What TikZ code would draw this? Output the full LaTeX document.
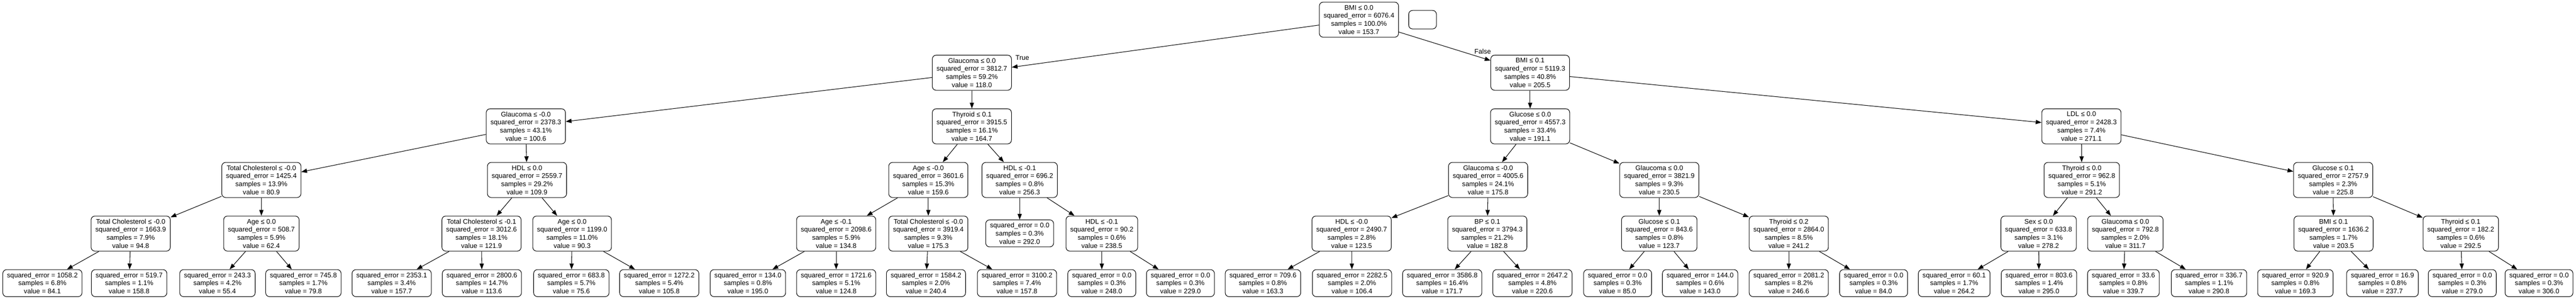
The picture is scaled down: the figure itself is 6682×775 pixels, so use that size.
\documentclass[tikz,border=0pt]{standalone}
\usepackage{fontspec}
\setmainfont{Liberation Sans}
\usetikzlibrary{arrows.meta}

\begin{document}
\begin{tikzpicture}
  [x=1pt,y=-1pt,
   decision/.style={draw,rounded corners=10pt,line width=1.4pt,align=center,
     font=\fontsize{17.5}{21}\selectfont,inner xsep=11pt,minimum height=91pt},
   leaf/.style={decision,minimum height=70pt},
   edge/.style={line width=1.4pt,-{Triangle[length=15pt,width=11pt]}},
   lbl/.style={font=\fontsize{17.5}{21}\selectfont,inner sep=0pt}]
  \useasboundingbox (0,0) rectangle (6682,775);

  % depth 0 and 1
  \node[decision] (root) at (3525,51) {BMI ≤ 0.0\\squared\_error = 6076.4\\samples = 100.0\%\\value = 153.7};
  \node[decision,minimum width=72pt,minimum height=48pt] (blank) at (3690,51) {};
  \node[decision] (L) at (2521,188.5) {Glaucoma ≤ 0.0\\squared\_error = 3812.7\\samples = 59.2\%\\value = 118.0};
  \node[decision] (R) at (3969,188.5) {BMI ≤ 0.1\\squared\_error = 5119.3\\samples = 40.8\%\\value = 205.5};
  \node[lbl] (true) at (2652,150) {True};
  \node[lbl] (false) at (3846,134) {False};

  % depth 2
  \node[decision] (LL) at (1364,327.5) {Glaucoma ≤ -0.0\\squared\_error = 2378.3\\samples = 43.1\%\\value = 100.6};
  \node[decision] (LR) at (2521,327.5) {Thyroid ≤ 0.1\\squared\_error = 3915.5\\samples = 16.1\%\\value = 164.7};
  \node[decision] (RL) at (3969,327.5) {Glucose ≤ 0.0\\squared\_error = 4557.3\\samples = 33.4\%\\value = 191.1};
  \node[decision] (RR) at (5399,327.5) {LDL ≤ 0.0\\squared\_error = 2428.3\\samples = 7.4\%\\value = 271.1};

  % depth 3
  \node[decision] (LLL) at (678,466.5) {Total Cholesterol ≤ -0.0\\squared\_error = 1425.4\\samples = 13.9\%\\value = 80.9};
  \node[decision] (LLR) at (1367,466.5) {HDL ≤ 0.0\\squared\_error = 2559.7\\samples = 29.2\%\\value = 109.9};
  \node[decision] (LRL) at (2408,466.5) {Age ≤ -0.0\\squared\_error = 3601.6\\samples = 15.3\%\\value = 159.6};
  \node[decision] (LRR) at (2645,466.5) {HDL ≤ -0.1\\squared\_error = 696.2\\samples = 0.8\%\\value = 256.3};
  \node[decision] (RLL) at (3860,466.5) {Glaucoma ≤ -0.0\\squared\_error = 4005.6\\samples = 24.1\%\\value = 175.8};
  \node[decision] (RLR) at (4304,466.5) {Glaucoma ≤ 0.0\\squared\_error = 3821.9\\samples = 9.3\%\\value = 230.5};
  \node[decision] (RRL) at (5400,466.5) {Thyroid ≤ 0.0\\squared\_error = 962.8\\samples = 5.1\%\\value = 291.2};
  \node[decision] (RRR) at (6052,466.5) {Glucose ≤ 0.1\\squared\_error = 2757.9\\samples = 2.3\%\\value = 225.8};

  % depth 4
  \node[decision] (LLLL) at (339,605.5) {Total Cholesterol ≤ -0.0\\squared\_error = 1663.9\\samples = 7.9\%\\value = 94.8};
  \node[decision] (LLLR) at (678,605.5) {Age ≤ 0.0\\squared\_error = 508.7\\samples = 5.9\%\\value = 62.4};
  \node[decision] (LLRL) at (1249,605.5) {Total Cholesterol ≤ -0.1\\squared\_error = 3012.6\\samples = 18.1\%\\value = 121.9};
  \node[decision] (LLRR) at (1484,605.5) {Age ≤ 0.0\\squared\_error = 1199.0\\samples = 11.0\%\\value = 90.3};
  \node[decision] (LRLL) at (2169,605.5) {Age ≤ -0.1\\squared\_error = 2098.6\\samples = 5.9\%\\value = 134.8};
  \node[decision] (LRLR) at (2408,605.5) {Total Cholesterol ≤ -0.0\\squared\_error = 3919.4\\samples = 9.3\%\\value = 175.3};
  \node[leaf] (LRRL) at (2645,605) {squared\_error = 0.0\\samples = 0.3\%\\value = 292.0};
  \node[decision] (LRRR) at (2858,605.5) {HDL ≤ -0.1\\squared\_error = 90.2\\samples = 0.6\%\\value = 238.5};
  \node[decision] (RLLL) at (3506,605.5) {HDL ≤ -0.0\\squared\_error = 2490.7\\samples = 2.8\%\\value = 123.5};
  \node[decision] (RLLR) at (3858,605.5) {BP ≤ 0.1\\squared\_error = 3794.3\\samples = 21.2\%\\value = 182.8};
  \node[decision] (RLRL) at (4304,605.5) {Glucose ≤ 0.1\\squared\_error = 843.6\\samples = 0.8\%\\value = 123.7};
  \node[decision] (RLRR) at (4640,605.5) {Thyroid ≤ 0.2\\squared\_error = 2864.0\\samples = 8.5\%\\value = 241.2};
  \node[decision] (RRLL) at (5288,605.5) {Sex ≤ 0.0\\squared\_error = 633.8\\samples = 3.1\%\\value = 278.2};
  \node[decision] (RRLR) at (5513,605.5) {Glaucoma ≤ 0.0\\squared\_error = 792.8\\samples = 2.0\%\\value = 311.7};
  \node[decision] (RRRL) at (6053,605.5) {BMI ≤ 0.1\\squared\_error = 1636.2\\samples = 1.7\%\\value = 203.5};
  \node[decision] (RRRR) at (6383,605.5) {Thyroid ≤ 0.1\\squared\_error = 182.2\\samples = 0.6\%\\value = 292.5};

  % depth 5, the leaves
  \node[leaf] (LLLLL) at (110,734) {squared\_error = 1058.2\\samples = 6.8\%\\value = 84.1};
  \node[leaf] (LLLLR) at (335,734) {squared\_error = 519.7\\samples = 1.1\%\\value = 158.8};
  \node[leaf] (LLLRL) at (564,734) {squared\_error = 243.3\\samples = 4.2\%\\value = 55.4};
  \node[leaf] (LLLRR) at (787,734) {squared\_error = 745.8\\samples = 1.7\%\\value = 79.8};
  \node[leaf] (LLRLL) at (1016,734) {squared\_error = 2353.1\\samples = 3.4\%\\value = 157.7};
  \node[leaf] (LLRLR) at (1250,734) {squared\_error = 2800.6\\samples = 14.7\%\\value = 113.6};
  \node[leaf] (LLRRL) at (1482,734) {squared\_error = 683.8\\samples = 5.7\%\\value = 75.6};
  \node[leaf] (LLRRR) at (1710,734) {squared\_error = 1272.2\\samples = 5.4\%\\value = 105.8};
  \node[leaf] (LRLLL) at (1940,734) {squared\_error = 134.0\\samples = 0.8\%\\value = 195.0};
  \node[leaf] (LRLLR) at (2169,734) {squared\_error = 1721.6\\samples = 5.1\%\\value = 124.8};
  \node[leaf] (LRLRL) at (2402,734) {squared\_error = 1584.2\\samples = 2.0\%\\value = 240.4};
  \node[leaf] (LRLRR) at (2638,734) {squared\_error = 3100.2\\samples = 7.4\%\\value = 157.8};
  \node[leaf] (LRRRL) at (2858,734) {squared\_error = 0.0\\samples = 0.3\%\\value = 248.0};
  \node[leaf] (LRRRR) at (3062,734) {squared\_error = 0.0\\samples = 0.3\%\\value = 229.0};
  \node[leaf] (RLLLL) at (3276,734) {squared\_error = 709.6\\samples = 0.8\%\\value = 163.3};
  \node[leaf] (RLLLR) at (3507,734) {squared\_error = 2282.5\\samples = 2.0\%\\value = 106.4};
  \node[leaf] (RLLRL) at (3741,734) {squared\_error = 3586.8\\samples = 16.4\%\\value = 171.7};
  \node[leaf] (RLLRR) at (3975,734) {squared\_error = 2647.2\\samples = 4.8\%\\value = 220.6};
  \node[leaf] (RLRLL) at (4196,734) {squared\_error = 0.0\\samples = 0.3\%\\value = 85.0};
  \node[leaf] (RLRLR) at (4410,734) {squared\_error = 144.0\\samples = 0.6\%\\value = 143.0};
  \node[leaf] (RLRRL) at (4640,734) {squared\_error = 2081.2\\samples = 8.2\%\\value = 246.6};
  \node[leaf] (RLRRR) at (4860,734) {squared\_error = 0.0\\samples = 0.3\%\\value = 84.0};
  \node[leaf] (RRLLL) at (5069,734) {squared\_error = 60.1\\samples = 1.7\%\\value = 264.2};
  \node[leaf] (RRLLR) at (5289,734) {squared\_error = 803.6\\samples = 1.4\%\\value = 295.0};
  \node[leaf] (RRLRL) at (5508,734) {squared\_error = 33.6\\samples = 0.8\%\\value = 339.7};
  \node[leaf] (RRLRR) at (5730,734) {squared\_error = 336.7\\samples = 1.1\%\\value = 290.8};
  \node[leaf] (RRRLL) at (5954,734) {squared\_error = 920.9\\samples = 0.8\%\\value = 169.3};
  \node[leaf] (RRRLR) at (6180,734) {squared\_error = 16.9\\samples = 0.8\%\\value = 237.7};
  \node[leaf] (RRRRL) at (6387,734) {squared\_error = 0.0\\samples = 0.3\%\\value = 279.0};
  \node[leaf] (RRRRR) at (6586,734) {squared\_error = 0.0\\samples = 0.3\%\\value = 306.0};

  \foreach \from/\to in {root/L,root/R,
      L/LL,L/LR,R/RL,R/RR,
      LL/LLL,LL/LLR,LR/LRL,LR/LRR,RL/RLL,RL/RLR,RR/RRL,RR/RRR,
      LLL/LLLL,LLL/LLLR,LLR/LLRL,LLR/LLRR,LRL/LRLL,LRL/LRLR,LRR/LRRL,LRR/LRRR,
      RLL/RLLL,RLL/RLLR,RLR/RLRL,RLR/RLRR,RRL/RRLL,RRL/RRLR,RRR/RRRL,RRR/RRRR,
      LLLL/LLLLL,LLLL/LLLLR,LLLR/LLLRL,LLLR/LLLRR,LLRL/LLRLL,LLRL/LLRLR,
      LLRR/LLRRL,LLRR/LLRRR,LRLL/LRLLL,LRLL/LRLLR,LRLR/LRLRL,LRLR/LRLRR,
      LRRR/LRRRL,LRRR/LRRRR,RLLL/RLLLL,RLLL/RLLLR,RLLR/RLLRL,RLLR/RLLRR,
      RLRL/RLRLL,RLRL/RLRLR,RLRR/RLRRL,RLRR/RLRRR,RRLL/RRLLL,RRLL/RRLLR,
      RRLR/RRLRL,RRLR/RRLRR,RRRL/RRRLL,RRRL/RRRLR,RRRR/RRRRL,RRRR/RRRRR}
    \draw[edge] (\from) -- (\to);

\end{tikzpicture}
\end{document}
